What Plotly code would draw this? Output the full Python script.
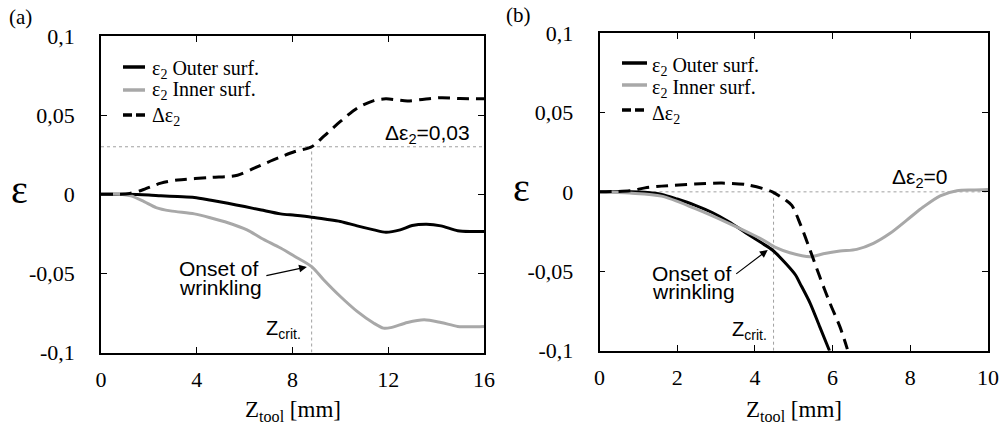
import plotly.graph_objects as go

# ---------------- Data: panel (a) ----------------
a_outer_x = [0, 1, 2, 2.5, 3.2, 3.9, 4.6, 5.3, 6.0, 6.7, 7.5, 8.1, 8.8, 9.4, 10.0, 10.7, 11.4, 11.9, 12.5, 13.0, 13.6, 14.2, 14.9, 15.5, 16]
a_outer_y = [0, 0, -0.0005, -0.001, -0.0015, -0.002, -0.0038, -0.0057, -0.0078, -0.010, -0.0124, -0.0133, -0.0145, -0.0158, -0.0172, -0.020, -0.0225, -0.024, -0.0225, -0.0198, -0.019, -0.020, -0.023, -0.0235, -0.0235]

a_inner_x = [0, 0.8, 1.25, 1.8, 2.3, 2.9, 3.9, 4.6, 5.3, 6.1, 6.7, 7.5, 8.1, 8.8, 9.3, 10.0, 10.7, 11.4, 11.8, 12.1, 12.8, 13.5, 14.2, 14.9, 15.5, 16]
a_inner_y = [0, 0, -0.001, -0.0046, -0.0084, -0.0105, -0.0124, -0.015, -0.018, -0.0225, -0.0278, -0.034, -0.0393, -0.0457, -0.054, -0.0646, -0.074, -0.0815, -0.0846, -0.0843, -0.081, -0.0793, -0.081, -0.0835, -0.0838, -0.0835]

a_delta_x = [0, 0.8, 1.2, 1.7, 2.5, 3.2, 4.6, 5.7, 6.4, 7.2, 8.1, 8.8, 9.3, 10.0, 10.7, 11.4, 11.9, 12.8, 13.5, 14.2, 15.0, 16]
a_delta_y = [0, 0, 0.0005, 0.0025, 0.007, 0.009, 0.0106, 0.012, 0.0165, 0.0217, 0.027, 0.030, 0.0365, 0.046, 0.0544, 0.0592, 0.0603, 0.059, 0.060, 0.061, 0.0605, 0.0603]

a_threshold = 0.03
a_zcrit = 8.8

# ---------------- Data: panel (b) ----------------
b_outer_x = [0, 0.8, 1.17, 1.6, 2.0, 2.45, 2.9, 3.33, 3.76, 4.19, 4.45, 4.79, 5.05, 5.16, 5.42, 5.67, 5.92]
b_outer_y = [0, 0, -0.0003, -0.0016, -0.0045, -0.0083, -0.013, -0.0188, -0.0257, -0.0324, -0.0366, -0.045, -0.0525, -0.0576, -0.070, -0.085, -0.100]

b_inner_x = [0, 0.78, 1.6, 2.45, 3.33, 4.19, 4.53, 4.9, 5.42, 5.76, 6.19, 6.62, 7.05, 7.48, 7.91, 8.34, 8.77, 9.2, 9.6, 10]
b_inner_y = [0, -0.0008, -0.0027, -0.0104, -0.0198, -0.030, -0.035, -0.0383, -0.0408, -0.039, -0.0373, -0.0362, -0.0324, -0.0261, -0.0178, -0.0094, -0.0025, 0.0007, 0.0012, 0.0015]

b_delta_x = [0, 0.78, 1.17, 1.6, 2.45, 3.15, 3.76, 4.19, 4.45, 4.79, 4.95, 5.16, 5.42, 5.67, 5.93, 6.19, 6.38]
b_delta_y = [0, 0.0007, 0.0025, 0.0036, 0.0049, 0.0055, 0.0046, 0.0022, 0.0, -0.0052, -0.0085, -0.0198, -0.0366, -0.0535, -0.070, -0.085, -0.099]

b_threshold = 0.0
b_zcrit = 4.48

y_tickvals = [0.1, 0.05, 0, -0.05, -0.1]
y_ticktext = ["0,1", "0,05", "0", "-0,05", "-0,1"]
a_xticks = [0, 4, 8, 12, 16]
b_xticks = [0, 2, 4, 6, 8, 10]

legend_names = ["ε<sub>2</sub> Outer surf.", "ε<sub>2</sub> Inner surf.", "Δε<sub>2</sub>"]

# ---------------- Styles ----------------
BLACK = "#000000"
GREY = "#a8a8a8"
REF = "#a0a0a0"
SERIF = "Liberation Serif"
SANS = "Liberation Sans"
W, H = 1001, 431
DASH = "12px,7px"

fig = go.Figure()

def add_panel(xa, ya, ox, oy, ix, iy, dx, dy, thr, zc, xmax):
    fig.add_trace(go.Scatter(x=[0, xmax], y=[thr, thr], mode="lines", xaxis=xa, yaxis=ya,
                             line=dict(color=REF, width=1, dash="3px,3px"), showlegend=False, hoverinfo="skip"))
    fig.add_trace(go.Scatter(x=[zc, zc], y=[-0.1, thr], mode="lines", xaxis=xa, yaxis=ya,
                             line=dict(color=REF, width=1, dash="3px,3px"), showlegend=False, hoverinfo="skip"))
    fig.add_trace(go.Scatter(x=ox, y=oy, mode="lines", name=legend_names[0], xaxis=xa, yaxis=ya, showlegend=False,
                             line=dict(color=BLACK, width=3, shape="spline", smoothing=0.8)))
    fig.add_trace(go.Scatter(x=ix, y=iy, mode="lines", name=legend_names[1], xaxis=xa, yaxis=ya, showlegend=False,
                             line=dict(color=GREY, width=3, shape="spline", smoothing=0.8)))
    fig.add_trace(go.Scatter(x=dx, y=dy, mode="lines", name=legend_names[2], xaxis=xa, yaxis=ya, showlegend=False,
                             line=dict(color=BLACK, width=3, dash=DASH, shape="spline", smoothing=0.8)))

add_panel("x", "y", a_outer_x, a_outer_y, a_inner_x, a_inner_y, a_delta_x, a_delta_y, a_threshold, a_zcrit, 16)
add_panel("x2", "y2", b_outer_x, b_outer_y, b_inner_x, b_inner_y, b_delta_x, b_delta_y, b_threshold, b_zcrit, 10)

axis_common = dict(showline=True, linecolor=BLACK, linewidth=1.5, mirror="ticks", ticks="inside",
                   ticklen=6, tickwidth=1.2, tickcolor=BLACK, showgrid=False, zeroline=False,
                   automargin=False, tickfont=dict(family=SERIF, size=22, color=BLACK))

fig.update_layout(
    template="none",
    width=W, height=H, margin=dict(l=0, r=0, t=0, b=0, pad=0, autoexpand=False),
    paper_bgcolor="white", plot_bgcolor="white", showlegend=False,
    font=dict(family=SERIF, color=BLACK),
    xaxis=dict(domain=[101 / W, 484 / W], range=[0, 16], tickvals=a_xticks, anchor="y",
               ticklabelstandoff=6, **axis_common),
    yaxis=dict(domain=[1 - 352.5 / H, 1 - 36 / H], range=[-0.1, 0.1], tickvals=y_tickvals, ticktext=y_ticktext,
               anchor="x", ticklabelstandoff=20, **axis_common),
    xaxis2=dict(domain=[599.5 / W, 988 / W], range=[0, 10], tickvals=b_xticks, anchor="y2",
                ticklabelstandoff=6, **axis_common),
    yaxis2=dict(domain=[1 - 350.7 / H, 1 - 33 / H], range=[-0.1, 0.1], tickvals=y_tickvals, ticktext=y_ticktext,
                anchor="x2", ticklabelstandoff=20, **axis_common),
)

def px_x(v):
    return v / W

def px_y(v):
    return 1 - v / H

ann = []
shapes = []
# panel labels
ann.append(dict(text="(a)", x=px_x(20), y=px_y(17), xref="paper", yref="paper", xanchor="center",
                yanchor="middle", showarrow=False, font=dict(family=SERIF, size=21, color=BLACK)))
ann.append(dict(text="(b)", x=px_x(518), y=px_y(15), xref="paper", yref="paper", xanchor="center",
                yanchor="middle", showarrow=False, font=dict(family=SERIF, size=21, color=BLACK)))
# y titles
ann.append(dict(text="ε", x=px_x(19), y=px_y(189), xref="paper", yref="paper", xanchor="center",
                yanchor="middle", showarrow=False, font=dict(family=SERIF, size=40, color=BLACK)))
ann.append(dict(text="ε", x=px_x(521), y=px_y(188), xref="paper", yref="paper", xanchor="center",
                yanchor="middle", showarrow=False, font=dict(family=SERIF, size=40, color=BLACK)))
# x titles
ann.append(dict(text="Z<sub>tool</sub> [mm]", x=8, y=px_y(411), xref="x", yref="paper", xanchor="center",
                yanchor="middle", showarrow=False, font=dict(family=SERIF, size=23, color=BLACK)))
ann.append(dict(text="Z<sub>tool</sub> [mm]", x=5, y=px_y(411), xref="x2", yref="paper", xanchor="center",
                yanchor="middle", showarrow=False, font=dict(family=SERIF, size=23, color=BLACK)))
# threshold labels
ann.append(dict(text="Δε<sub>2</sub>=0,03", x=15.5, y=0.0382, xref="x", yref="y", xanchor="right",
                yanchor="middle", showarrow=False, font=dict(family=SANS, size=21, color=BLACK)))
ann.append(dict(text="Δε<sub>2</sub>=0", x=9.02, y=0.0087, xref="x2", yref="y2", xanchor="right",
                yanchor="middle", showarrow=False, font=dict(family=SANS, size=21, color=BLACK)))
# Z crit labels
ann.append(dict(text="Z<sub>crit.</sub>", x=8.45, y=-0.0855, xref="x", yref="y", xanchor="right",
                yanchor="middle", showarrow=False, font=dict(family=SANS, size=20, color=BLACK)))
ann.append(dict(text="Z<sub>crit.</sub>", x=4.36, y=-0.0875, xref="x2", yref="y2", xanchor="right",
                yanchor="middle", showarrow=False, font=dict(family=SANS, size=20, color=BLACK)))
# onset text (two lines, tight spacing)
for xx, yy, xr, yr in [(3.17, -0.0471, "x", "y"), (1.30, -0.0511, "x2", "y2")]:
    ann.append(dict(text="Onset of", x=xx, y=yy, xref=xr, yref=yr, xanchor="left", yanchor="middle",
                    showarrow=False, font=dict(family=SANS, size=21, color=BLACK)))
for xx, yy, xr, yr in [(3.17, -0.0591, "x", "y"), (1.30, -0.0625, "x2", "y2")]:
    ann.append(dict(text="wrinkling", x=xx, y=yy, xref=xr, yref=yr, xanchor="left", yanchor="middle",
                    showarrow=False, font=dict(family=SANS, size=21, color=BLACK)))
# arrows
ann.append(dict(text="", x=8.6, y=-0.0459, xref="x", yref="y", ax=-42, ay=9, showarrow=True,
                arrowhead=2, arrowsize=1.3, arrowwidth=1.2, arrowcolor=BLACK))
ann.append(dict(text="", x=4.33, y=-0.0366, xref="x2", yref="y2", ax=-33, ay=25, showarrow=True,
                arrowhead=2, arrowsize=1.3, arrowwidth=1.2, arrowcolor=BLACK))

# legends (drawn per panel: sample line + label)
legend_styles = [dict(color=BLACK, width=3.5), dict(color=GREY, width=3.5), dict(color=BLACK, width=3.5, dash="9px,4px")]
legend_layouts = [
    # (sample x0, sample x1, text x, sample ys, text ys)
    (123, 145, 150, [67, 90, 115], [70, 91, 116]),
    (622, 647, 650, [63, 85, 110], [67, 88, 114]),
]
for sx0, sx1, tx, sys_, tys in legend_layouts:
    for name, st, sy, ty in zip(legend_names, legend_styles, sys_, tys):
        shapes.append(dict(type="line", xref="paper", yref="paper", x0=px_x(sx0), x1=px_x(sx1),
                           y0=px_y(sy), y1=px_y(sy), line=st))
        ann.append(dict(text=name, x=px_x(tx), y=px_y(ty), xref="paper", yref="paper", xanchor="left",
                        yanchor="middle", showarrow=False, font=dict(family=SERIF, size=20, color=BLACK)))

fig.update_layout(annotations=ann, shapes=shapes)
fig.write_html("out.html", config={"displayModeBar": False},
               post_script="document.body.style.margin='0px';")
